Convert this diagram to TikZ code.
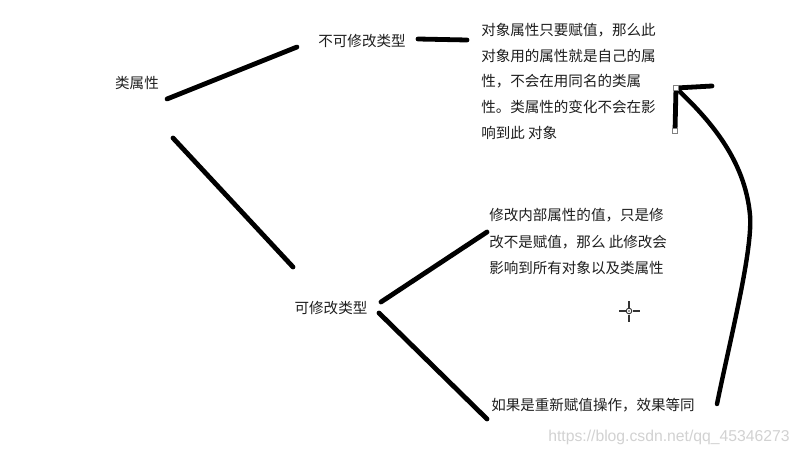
\documentclass[tikz,border=0pt]{standalone}
\usepackage{fontspec}
\setmainfont{Noto Sans CJK SC}
\newfontfamily\wmfont{Liberation Sans}
\definecolor{txtc}{HTML}{1E1E1E}
\definecolor{wmc}{HTML}{D2D2D2}
\begin{document}
\begin{tikzpicture}[x=0.75pt,y=-0.75pt,
  lbl/.style={inner sep=0pt, font=\fontsize{10.9pt}{13pt}\selectfont, text=txtc, text height=0.8em, text depth=0.05em},
  para/.style={lbl, anchor=west},
  stroke/.style={line width=3.6pt, line cap=round, black},
  handle/.style={draw=gray, fill=white, line width=0.6pt, minimum size=3.5pt, inner sep=0pt},
  cross/.style={line width=0.9pt, black!80}]
\useasboundingbox (0,0) rectangle (800,457);
\fill[white] (0,0) rectangle (800,457);

% labels
\node[lbl] (lei) at (137,83) {类属性};
\node[lbl] (bk) at (362,41) {不可修改类型};
\node[lbl] (kx) at (331,308) {可修改类型};

% text block 1
\node[para] (t1a) at (481,30) {对象属性只要赋值，那么此};
\node[para] (t1b) at (481,56) {对象用的属性就是自己的属};
\node[para] (t1c) at (481,81) {性，不会在用同名的类属};
\node[para] (t1d) at (481,107) {性。类属性的变化不会在影};
\node[para] (t1e) at (481,133) {响到此 对象};

% text block 2
\node[para] (t2a) at (489,215) {修改内部属性的值，只是修};
\node[para] (t2b) at (489,242) {改不是赋值，那么 此修改会};
\node[para] (t2c) at (489,268) {影响到所有对象以及类属性};

% text block 3
\node[para] (t3) at (491,405) {如果是重新赋值操作，效果等同};

% watermark
\node[inner sep=0pt, anchor=west, text=wmc, font=\wmfont\fontsize{11.8pt}{13pt}\selectfont] (wm) at (548,437) {https://blog.csdn.net/qq\_45346273};

% connector end points
\coordinate (a1) at (167,99);
\coordinate (a2) at (297,47);
\coordinate (b1) at (173,138);
\coordinate (b2) at (293,267);
\coordinate (c1) at (418,39);
\coordinate (c2) at (467,40);
\coordinate (d1) at (381,302);
\coordinate (d2) at (487,232);
\coordinate (e1) at (379,313);
\coordinate (e2) at (487,419);
\coordinate (tip) at (676,88);
\coordinate (hx) at (712,86);
\coordinate (hy) at (675,131);
\coordinate (mid) at (750,215);
\coordinate (tail) at (717,404);

% connectors
\draw[stroke] (a1) -- (a2);
\draw[stroke] (b1) -- (b2);
\draw[stroke] (c1) -- (c2);
\draw[stroke] (d1) -- (d2);
\draw[stroke] (e1) -- (e2);

% hand-drawn arrow
\draw[stroke, line width=3.3pt] (tail) .. controls (730,340) and (753,250) .. (mid)
  .. controls (745,160) and (710,120) .. (tip);
\draw[stroke] (tip) -- (hx);
\draw[stroke] (tip) -- (hy);
\node[handle] (h1) at (tip) {};
\node[handle] (h2) at (hy) {};

% cursor
\coordinate (cur) at (629,311);
\draw[cross] (619,311) -- (625.5,311) (632.5,311) -- (640,311)
  (629,301) -- (629,307.5) (629,314.5) -- (629,322);
\draw[cross, line width=0.7pt] (cur) circle (2.8);
\fill[black!80] (cur) circle (0.9);
\end{tikzpicture}
\end{document}
